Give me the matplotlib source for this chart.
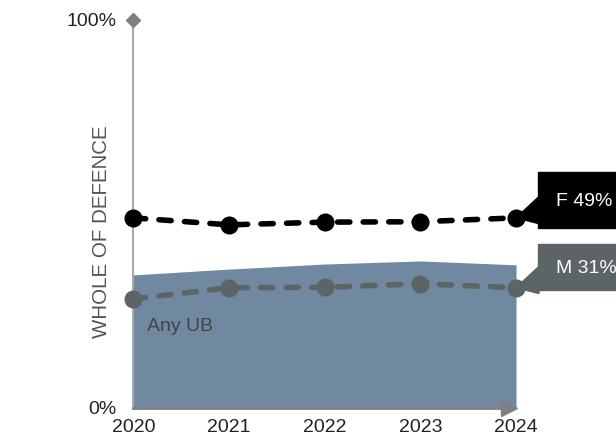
import matplotlib.pyplot as plt
from matplotlib.patches import Polygon, Rectangle

plt.rcParams['font.family'] = ['Liberation Sans', 'DejaVu Sans']

# data
years = [2020, 2021, 2022, 2023, 2024]
any_ub = [34.3, 35.8, 37.1, 37.9, 36.9]
f_vals = [49.0, 47.2, 47.9, 48.0, 49.0]
m_vals = [28.1, 31.0, 31.1, 32.0, 31.0]

c_area = '#7189a0'
c_f = '#000000'
c_m = '#5c6466'

fig = plt.figure(figsize=(6.16, 4.37), dpi=100)
ax = fig.add_axes([0.2167, 0.0664, 0.6210, 0.8879])
ax.set_xlim(2020, 2024)
ax.set_ylim(0, 100)

ax.fill_between(years, 0, any_ub, color=c_area, lw=0, zorder=1)
ax.text(2020.14, 21, 'Any UB', fontsize=14, color='#444444', va='center', ha='left')

for vals, col in [(m_vals, c_m), (f_vals, c_f)]:
    ln, = ax.plot(years, vals, color=col, lw=4, marker='o', ms=12,
                  dash_capstyle='round', zorder=3, clip_on=False)
    ln.set_dashes((2.2, 2.4))

# callout boxes at the last point
box_x = 2024 + 22 / 95.6
for vals, name, col, y0, y1 in [(f_vals, 'F', c_f, 46.4, 60.8), (m_vals, 'M', c_m, 30.4, 42.3)]:
    yv = vals[-1]
    ax.add_patch(Rectangle((box_x, y0), 1.5, y1 - y0, color=col, clip_on=False, zorder=4))
    ax.add_patch(Polygon([(years[-1], yv), (box_x + 0.01, yv + 5.5), (box_x + 0.01, yv - 1.5)],
                         closed=True, color=col, clip_on=False, zorder=4))
    ax.text(box_x + 0.19, (y0 + y1) / 2 - 0.4, f'{name} {yv:.0f}%', color='white', fontsize=14,
            va='center', ha='left', zorder=5, clip_on=False)

# axes
for s in ax.spines.values():
    s.set_visible(False)
ax.set_xticks(years)
ax.set_yticks([0, 100])
ax.set_yticklabels(['0%', '100%'])
ax.tick_params(length=0, labelsize=14, colors='#222222')
ax.tick_params(axis='x', pad=8)
ax.tick_params(axis='y', pad=12)
ax.plot([2020, 2020], [0, 100], color='#aaaaaa', lw=1.5, zorder=2, clip_on=False)
ax.plot([2020], [100], marker='D', ms=7, color='#808080', clip_on=False, zorder=2)
ax.plot([2020, 2023.9], [0, 0], color='#808080', lw=2, zorder=2, clip_on=False)
ax.plot([2023.93], [0], marker='>', ms=12, color='#808080', clip_on=False, zorder=2)
ax.set_ylabel('WHOLE OF DEFENCE', fontsize=14.8, color='#555555')
ax.yaxis.set_label_coords(-0.058, 0.455)

fig.savefig('out.png', dpi=100)
